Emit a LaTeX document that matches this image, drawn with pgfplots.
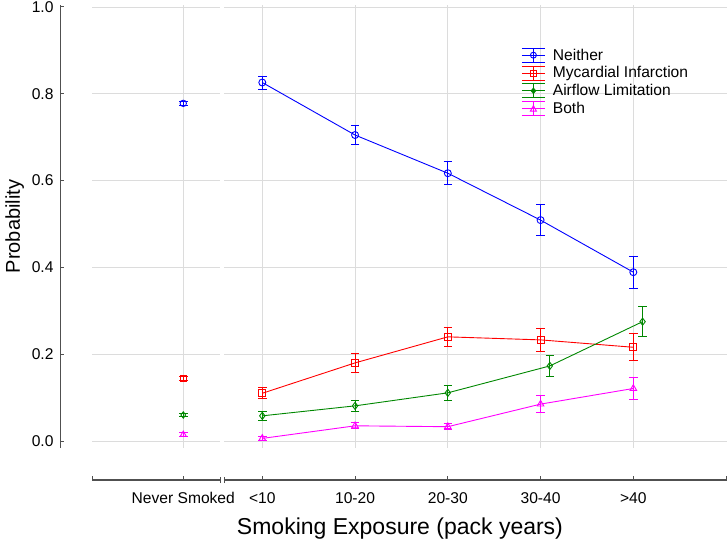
\documentclass[border=0pt]{standalone}
\usepackage{fontspec}
\setmainfont{Liberation Sans}
\usepackage{pgfplots}
\pgfplotsset{compat=1.18}
\definecolor{cBlue}{RGB}{0,0,255}
\definecolor{cRed}{RGB}{255,0,0}
\definecolor{cGreen}{RGB}{0,135,0}
\definecolor{cMag}{RGB}{255,0,255}
\definecolor{gridc}{RGB}{220,220,220}
\definecolor{axc}{RGB}{80,80,80}
\pgfplotsset{
  eb/.style={error bars/.cd, y dir=both, y explicit,
    error mark options={rotate=90, mark size=4.25pt, line width=0.9pt, #1},
    error bar style={line width=0.9pt, #1}},
  limg/.style={legend image code/.code={
    \draw[#1,line width=0.9pt] (0pt,0pt)--(23pt,0pt);
    \draw[#1,line width=0.9pt] (0pt,7pt)--(23pt,7pt);
    \draw[#1,line width=0.9pt] (0pt,-7pt)--(23pt,-7pt);
    \draw[#1,line width=0.9pt] (11.5pt,-7pt)--(11.5pt,7pt);
  }},
}
\begin{document}
\begin{tikzpicture}
\path[use as bounding box] (0pt,0pt) rectangle (728pt,541pt);
% main data axis
\begin{axis}[name=main, at={(92pt,93pt)}, anchor=south west,
  scale only axis, width=635pt, height=443pt,
  xmin=-0.836, xmax=6.01, ymin=-0.0161, ymax=1.0046,
  axis line style={draw=none},
  xtick={0.148,1,2,3,4,5}, ytick={0,0.2,0.4,0.6,0.8,1.0},
  tick label style={opacity=0}, major tick length=0pt,
  grid=major, grid style={draw=gridc, line width=0.9pt},
  clip=false,
  legend cell align=left,
  legend style={at={(axis description cs:0.676,0.905)}, anchor=north west,
    draw=none, fill=none, font=\fontsize{15.6}{17}\selectfont,
    inner sep=0pt, nodes={inner sep=1.5pt}, row sep=2pt,
    /tikz/every odd column/.append style={column sep=6pt}},
]
\fill[white] (axis cs:0.544,-0.03) rectangle (axis cs:0.590,1.01);

\addplot[forget plot, cBlue, line width=0.9pt, mark=o, mark size=3.5pt, eb=cBlue] table[x=x,y=y,y error=e] {
x y e
1 0.826 0.015
2 0.705 0.021
3 0.617 0.027
4 0.509 0.036
5 0.389 0.037
};
\addplot[forget plot, cRed, line width=0.9pt, mark=square, mark size=3.6pt, eb=cRed] table[x=x,y=y,y error=e] {
x y e
1 0.110 0.013
2 0.180 0.022
3 0.240 0.022
4 0.233 0.027
5 0.216 0.031
};
\addplot[forget plot, cGreen, line width=0.9pt, mark=diamond, mark size=3.6pt, eb=cGreen] table[x=x,y=y,y error=e] {
x y e
1 0.058 0.010
2 0.081 0.012
3 0.111 0.017
4.1 0.173 0.024
5.1 0.275 0.035
};
\addplot[forget plot, cMag, line width=0.9pt, mark=triangle, mark size=3.8pt, eb=cMag] table[x=x,y=y,y error=e] {
x y e
1 0.006 0.005
2 0.035 0.007
3 0.033 0.007
4 0.085 0.019
5 0.121 0.025
};
% Never smoked
\addplot[forget plot, only marks, cBlue, line width=0.9pt, mark=o, mark size=3.2pt, eb=cBlue] table[x=x,y=y,y error=e] {
x y e
0.148 0.778 0.005
};
\addplot[forget plot, only marks, cRed, line width=0.9pt, mark=square, mark size=3.2pt, eb=cRed] table[x=x,y=y,y error=e] {
x y e
0.148 0.144 0.005
};
\addplot[forget plot, only marks, cGreen, line width=0.9pt, mark=diamond, mark size=3.2pt, eb=cGreen] table[x=x,y=y,y error=e] {
x y e
0.148 0.060 0.004
};
\addplot[forget plot, only marks, cMag, line width=0.9pt, mark=triangle, mark size=3.4pt, eb=cMag] table[x=x,y=y,y error=e] {
x y e
0.148 0.015 0.004
};
\addlegendimage{cBlue, limg=cBlue, legend image code/.append code={\draw[cBlue,line width=0.9pt] (11.5pt,0pt) circle (3pt);}}
\addlegendentry{Neither}
\addlegendimage{cRed, limg=cRed, legend image code/.append code={\draw[cRed,line width=0.9pt] (8.5pt,-3pt) rectangle (14.5pt,3pt);}}
\addlegendentry{Mycardial Infarction}
\addlegendimage{cGreen, limg=cGreen, legend image code/.append code={\fill[cGreen] (11.5pt,-3pt)--(14pt,0pt)--(11.5pt,3pt)--(9pt,0pt)--cycle;}}
\addlegendentry{Airflow Limitation}
\addlegendimage{cMag, limg=cMag, legend image code/.append code={\draw[cMag,line width=0.9pt] (8.5pt,-2.5pt)--(14.5pt,-2.5pt)--(11.5pt,3pt)--cycle;}}
\addlegendentry{Both}
\end{axis}
% y axis
\begin{axis}[at={(60pt,93pt)}, anchor=south west,
  scale only axis, width=20pt, height=443pt,
  xmin=0, xmax=1, ymin=-0.0161, ymax=1.0046,
  axis x line=none, axis y line=left,
  axis line style={-, draw=axc, line width=1pt},
  ytick={0,0.2,0.4,0.6,0.8,1.0},
  tick align=inside, major tick length=4pt,
  tick style={draw=axc, line width=1pt},
  tick label style={font=\fontsize{15.6}{17}\selectfont},
  yticklabel style={xshift=-3pt, /pgf/number format/.cd, fixed, fixed zerofill, precision=1, assume math mode=true},
  ylabel={Probability},
  ylabel style={font=\fontsize{20}{24}\selectfont, yshift=1pt},
]
\end{axis}
% x axis
\begin{axis}[at={(92pt,61pt)}, anchor=south west,
  scale only axis, width=635pt, height=20pt,
  xmin=-0.836, xmax=6.01, ymin=0, ymax=1,
  axis y line=none, axis x line=bottom,
  axis line style={draw=none},
  xtick={-0.836,0.148,1,2,3,4,5,6},
  xticklabels={,Never Smoked,<10,10-20,20-30,30-40,>40,},
  tick align=inside, major tick length=4pt,
  tick style={draw=axc, line width=1pt},
  tick label style={font=\fontsize{15.6}{17}\selectfont},
  xticklabel style={yshift=-9pt},
  xlabel={Smoking Exposure (pack years)},
  xlabel style={font=\fontsize{23}{27}\selectfont, at={(ticklabel cs:0.485)}, anchor=north, yshift=-7pt},
  clip=false,
]
\draw[axc, line width=1.3pt] (axis cs:-0.836,0) -- (axis cs:0.544,0);
\draw[axc, line width=1.3pt] (axis cs:0.588,0) -- (axis cs:6.01,0);
\draw[axc, line width=1pt] ([yshift=-3pt]axis cs:0.544,0) -- ([yshift=3pt]axis cs:0.544,0);
\draw[axc, line width=1pt] ([yshift=-3pt]axis cs:0.588,0) -- ([yshift=3pt]axis cs:0.588,0);
\end{axis}
\end{tikzpicture}
\end{document}
